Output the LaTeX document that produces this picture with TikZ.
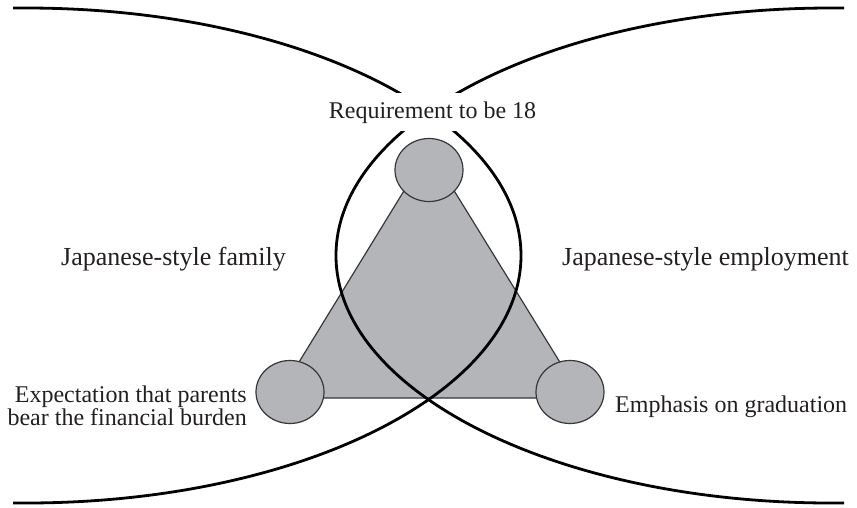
\documentclass[tikz,border=0pt]{standalone}
\usepackage{fontspec}
\setmainfont{Liberation Serif}
\usetikzlibrary{shapes.geometric}
\definecolor{shade}{RGB}{180,181,185}
\definecolor{ink}{RGB}{35,31,32}
\definecolor{rim}{RGB}{55,55,58}
\begin{document}
\begin{tikzpicture}[x=1pt,y=-1pt,
  bigarc/.style={line width=2.8pt,black},
  blob/.style={ellipse,draw=rim,line width=1.2pt,fill=shade,minimum width=68pt,minimum height=63pt,inner sep=0pt},
  smalltxt/.style={text=ink,font=\fontsize{24}{20}\selectfont,inner sep=0pt},
  bigtxt/.style={text=ink,font=\fontsize{26}{30}\selectfont,inner sep=0pt}]
\useasboundingbox (0,0) rectangle (857,507);
% triangle
\coordinate (ta) at (429,150);
\coordinate (tl) at (277,398);
\coordinate (tr) at (582,398);
\filldraw[fill=shade,draw=rim,line width=1.2pt,line join=miter] (ta) -- (tl) -- (tr) -- cycle;
% circles
\node[blob] (ctop) at (429,170) {};
\node[blob] (cleft) at (290,392) {};
\node[blob] (cright) at (570,392) {};
% big ellipses
\begin{scope}
\clip (13,0) rectangle (844,507);
\coordinate (lc) at (26,255.5);
\coordinate (rc) at (831,255.5);
\draw[bigarc] (lc) ellipse [x radius=495, y radius=247.5];
\draw[bigarc] (rc) ellipse [x radius=495, y radius=247.5];
\end{scope}
% labels
\node[smalltxt,fill=white,inner xsep=8pt,inner ysep=8pt,anchor=base] (req) at (432.5,118) {Requirement to be 18};
\node[bigtxt,anchor=base west] (fam) at (61,265) {Japanese-style family};
\node[bigtxt,anchor=base west] (emp) at (562,265) {Japanese-style employment};
\node[smalltxt,align=right,anchor=base east] (exp) at (247,425) {Expectation that parents\\bear the financial burden};
\node[smalltxt,anchor=base west] (grad) at (615,412) {Emphasis on graduation};
\end{tikzpicture}
\end{document}
